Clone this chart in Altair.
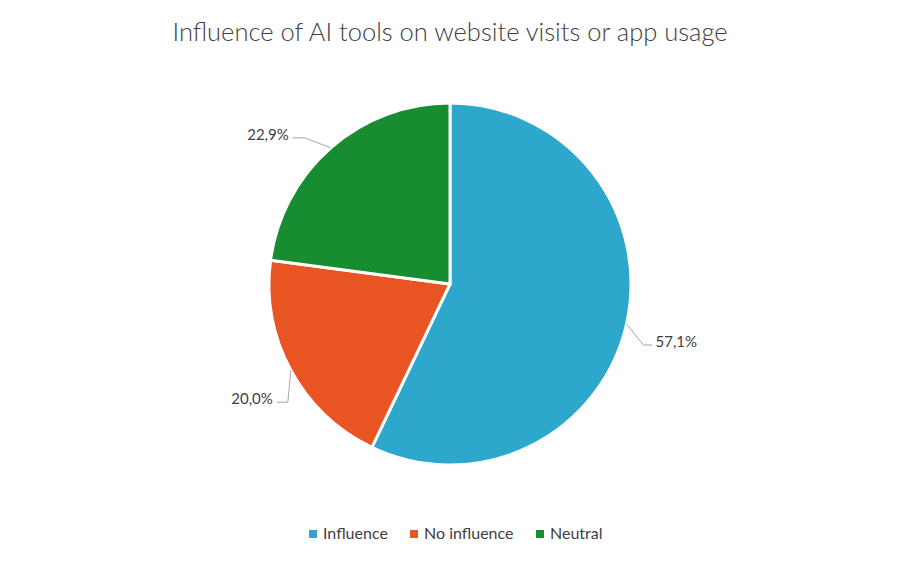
import math
import altair as alt
import pandas as pd

# ---- data ----
categories = ["Influence", "No influence", "Neutral"]
shares = [57.1, 20.0, 22.9]
share_labels = ["57,1%", "20,0%", "22,9%"]
colors = ["#2EA7CC", "#E85422", "#178C30"]
title_text = "Influence of AI tools on website visits or app usage"

# ---- layout constants ----
W, H = 884, 448
R = 181
FONT = "Lato"
TEXT_COLOR = "#404040"
# leader line elbow offsets (from slice edge) and horizontal run, label side
leader_elbow = {"Influence": (17, -21), "No influence": (-3, -32), "Neutral": (-26, 10)}
leader_run = {"Influence": 9, "No influence": -11, "Neutral": -12}
label_side = {"Influence": "left", "No influence": "right", "Neutral": "right"}

df = pd.DataFrame({"category": categories, "share": shares,
                   "label": share_labels, "order": [0, 1, 2]})

# leader lines derived from slice mid-angles
total = sum(shares)
rows, lab_rows = [], []
cum = 0.0
for cat, s, lab in zip(categories, shares, share_labels):
    mid = (cum + s / 2) / total * 2 * math.pi
    cum += s
    sx, sy = R * math.sin(mid), R * math.cos(mid)
    ex, ey = sx + leader_elbow[cat][0], sy + leader_elbow[cat][1]
    fx, fy = ex + leader_run[cat], ey
    rows += [{"category": cat, "step": 0, "x": sx, "y": sy},
             {"category": cat, "step": 1, "x": ex, "y": ey},
             {"category": cat, "step": 2, "x": fx, "y": fy}]
    gap = 3 if leader_run[cat] > 0 else -4
    lab_rows.append({"category": cat, "label": lab, "x": fx + gap, "y": fy + 3,
                     "side": label_side[cat]})
lines_df = pd.DataFrame(rows)
labels_df = pd.DataFrame(lab_rows)

xs = alt.Scale(domain=[-W / 2, W / 2], nice=False, zero=False)
ys = alt.Scale(domain=[-H / 2, H / 2], nice=False, zero=False)

pie = alt.Chart(df).mark_arc(outerRadius=R, stroke="white", strokeWidth=3).encode(
    theta=alt.Theta("share:Q", stack=True),
    color=alt.Color(
        "category:N",
        scale=alt.Scale(domain=categories, range=colors),
        sort=categories,
        legend=alt.Legend(
            title=None, orient="none", legendX=297, legendY=466,
            direction="horizontal", symbolType="square", symbolSize=64,
            symbolStrokeWidth=0, labelFont=FONT, labelFontSize=16,
            labelColor=TEXT_COLOR, labelOffset=2, columnPadding=18,
        ),
    ),
    order=alt.Order("order:Q"),
)

leaders = alt.Chart(lines_df).mark_line(color="#A6A6A6", strokeWidth=1).encode(
    x=alt.X("x:Q", scale=xs, axis=None),
    y=alt.Y("y:Q", scale=ys, axis=None),
    detail="category:N",
    order="step:Q",
)

lab_left = alt.Chart(labels_df).transform_filter(alt.datum.side == "left").mark_text(
    align="left", baseline="middle", font=FONT, fontSize=15, color=TEXT_COLOR
).encode(x=alt.X("x:Q", scale=xs, axis=None), y=alt.Y("y:Q", scale=ys, axis=None), text="label:N")

lab_right = alt.Chart(labels_df).transform_filter(alt.datum.side == "right").mark_text(
    align="right", baseline="middle", font=FONT, fontSize=15, color=TEXT_COLOR
).encode(x=alt.X("x:Q", scale=xs, axis=None), y=alt.Y("y:Q", scale=ys, axis=None), text="label:N")

chart = alt.layer(pie, leaders, lab_left, lab_right).properties(
    width=W, height=H,
    autosize="none",
    padding={"top": 52, "bottom": 47, "left": 0, "right": 0},
    title=alt.TitleParams(title_text, font=FONT, fontSize=25.5, fontWeight=300,
                          color=TEXT_COLOR, anchor="middle", offset=14),
    background="white",
).configure_view(stroke=None)

chart.save("out.html", embed_options={"renderer": "svg", "actions": False})
